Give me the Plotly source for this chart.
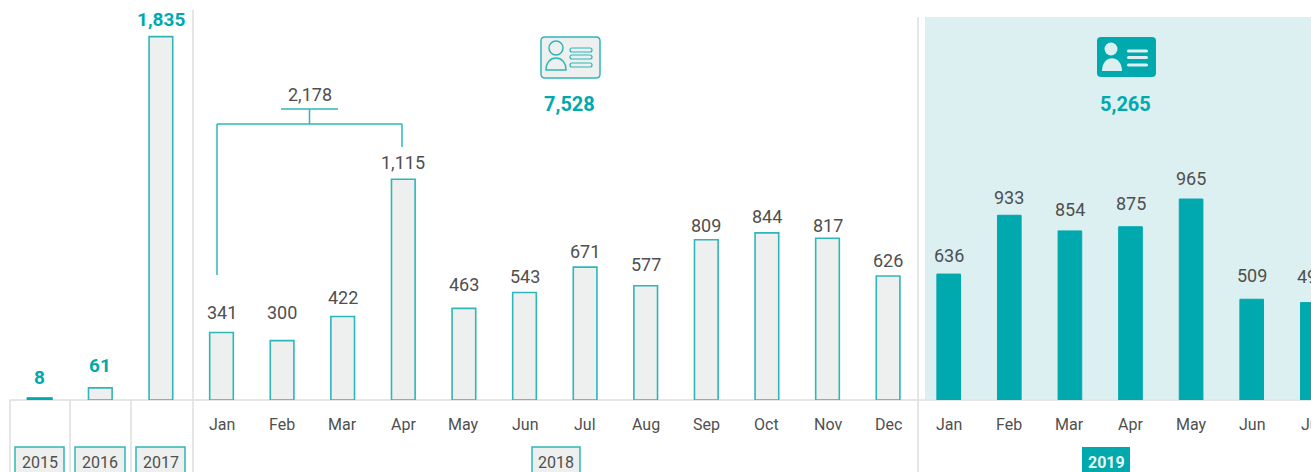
import plotly.graph_objects as go

W, H = 1311, 472
FIG_W = 1331  # the figure runs past the window so the last bar and labels are cut at the edge
BASE = 399  # pixel row of the zero line
TEAL = "#00a9ad"
LINE = "#2fb6b9"
FILL = "#edf0ee"
GREY = "#dedede"
TXT = "#4f4f4f"
FONT = "Roboto"

years = ["2015", "2016", "2017"]
year_vals = [8, 61, 1835]
months_2018 = ["Jan", "Feb", "Mar", "Apr", "May", "Jun", "Jul", "Aug", "Sep", "Oct", "Nov", "Dec"]
vals_2018 = [341, 300, 422, 1115, 463, 543, 671, 577, 809, 844, 817, 626]
months_2019 = ["Jan", "Feb", "Mar", "Apr", "May", "Jun", "Jul"]
labels_2019 = [636, 933, 854, 875, 965, 509, 492]
# heights as drawn in the reference (May is drawn taller than its label)
heights_2019 = [636, 933, 854, 875, 1015, 509, 492]
bracket_total = "2,178"
total_2018 = "7,528"
total_2019 = "5,265"

# pixel lift of each value label above its bar, as placed in the reference
lift_years = [21, 22, 17]
lift_2018 = [20, 28, 19, 17, 24, 16, 16, 21, 14, 16, 13, 16]
lift_2019 = [19, 18, 21, 23, 21, 24, 26]

x_y = list(range(3))
x_18 = list(range(3, 15))
x_19 = list(range(15, 22))

STEP = 60.6
X0 = 39.7
SCALE = 0.198


def px(x):
    return x / FIG_W


def py(y):
    # paper coordinates: plot area ends at BASE + 1
    return ((BASE + 1) - y) / (BASE + 1)


def fmt(v):
    return f"{v:,}"


fig = go.Figure()
fig.add_bar(x=x_y, y=year_vals,
            marker=dict(color=[TEAL, FILL, FILL], line=dict(color=[TEAL, LINE, LINE], width=[2.5, 1.6, 1.6])))
fig.add_bar(x=x_18, y=vals_2018, marker=dict(color=FILL, line=dict(color=LINE, width=1.6)))
fig.add_bar(x=x_19, y=heights_2019, marker=dict(color=TEAL, line=dict(color=TEAL, width=1)))
fig.update_traces(cliponaxis=False, width=0.39, hoverinfo="skip")

shapes = []


def line(x1, y1, x2, y2, color=GREY, width=1.5, layer="below"):
    shapes.append(dict(type="line", xref="paper", yref="paper", x0=px(x1), x1=px(x2), y0=py(y1), y1=py(y2),
                       line=dict(color=color, width=width), layer=layer))


def rect(x1, y1, x2, y2, fill=None, color=None, width=1.5, layer="below"):
    shapes.append(dict(type="rect", xref="paper", yref="paper", x0=px(x1), x1=px(x2), y0=py(y1), y1=py(y2),
                       fillcolor=fill or "rgba(0,0,0,0)",
                       line=dict(color=color or "rgba(0,0,0,0)", width=width if color else 0), layer=layer))


def circle(cx, cy, r, fill, color=None, width=1.5):
    shapes.append(dict(type="circle", xref="paper", yref="paper", x0=px(cx - r), x1=px(cx + r),
                       y0=py(cy + r), y1=py(cy - r), fillcolor=fill,
                       line=dict(color=color or fill, width=width if color else 0), layer="above"))


def pill(x1, y1, x2, y2, r, fill, color=None, width=1.5):
    k = r
    pts = [
        (x1 + k, y1), (x2 - k, y1), ("Q", x2, y1, x2, y1 + k), (x2, y2 - k), ("Q", x2, y2, x2 - k, y2),
        (x1 + k, y2), ("Q", x1, y2, x1, y2 - k), (x1, y1 + k), ("Q", x1, y1, x1 + k, y1),
    ]
    d = ""
    for i, p in enumerate(pts):
        if p[0] == "Q":
            d += f"Q{px(p[1]):.5f},{py(p[2]):.5f} {px(p[3]):.5f},{py(p[4]):.5f} "
        else:
            d += f"{'M' if i == 0 else 'L'}{px(p[0]):.5f},{py(p[1]):.5f} "
    shapes.append(dict(type="path", xref="paper", yref="paper", path=d + "Z", fillcolor=fill,
                       line=dict(color=color or fill, width=width if color else 0), layer="above"))


def bust(x1, y1, x2, y2, fill, color=None, width=1.5):
    d = (f"M{px(x1):.5f},{py(y2):.5f} C{px(x1):.5f},{py(y1):.5f} {px(x2):.5f},{py(y1):.5f} "
         f"{px(x2):.5f},{py(y2):.5f} Z")
    shapes.append(dict(type="path", xref="paper", yref="paper", path=d, fillcolor=fill,
                       line=dict(color=color or fill, width=width if color else 0), layer="above"))


# highlighted 2019 panel and rules
rect(925, 17, FIG_W, BASE, fill="#dcf0f2")
line(10, 400, FIG_W, 400)
line(193, 10, 193, H)
line(918, 17, 918, H)
for xp in (10, 70, 131):
    line(xp, 400, xp, H)

# bracket
for a in [(217, 275, 217, 124), (217, 124, 402, 124), (402, 124, 402, 147), (309.5, 124, 309.5, 109), (281, 109, 338, 109)]:
    line(*a, color=LINE, width=1.5, layer="above")

# year boxes
for x1, x2 in [(15, 64), (75, 125), (136, 185), (532, 580)]:
    rect(x1, 447, x2, 474, fill=FILL, color=LINE, width=1.5, layer="above")
rect(1082, 447, 1130, 474, fill=TEAL, layer="above")

# outlined card icon
pill(541, 37, 600, 78, 4, FILL, LINE, 1.5)
circle(556, 48, 7, FILL, LINE, 1.5)
bust(546, 54, 566, 70, FILL, LINE, 1.5)
for yy in (50, 57, 65):
    pill(570, yy - 2, 592, yy + 2, 2, FILL, LINE, 1.2)

# filled card icon
pill(1097, 37, 1156, 77, 4, TEAL)
circle(1111, 49, 6.5, "#dcf0f2")
bust(1102, 54, 1122, 71, "#dcf0f2")
for yy in (51, 57.5, 65):
    pill(1127, yy - 1.5, 1148, yy + 1.5, 1.5, "#dcf0f2")


def ann(x, y, text, color=TXT, size=18, weight="normal"):
    return dict(xref="paper", yref="paper", x=px(x), y=py(y), text=text, showarrow=False,
                xanchor="center", yanchor="middle",
                font=dict(color=color, size=size, family=FONT, weight=weight))


annotations = [
    ann(309.5, 94, bracket_total, TXT, 18),
    ann(569, 104, total_2018, TEAL, 20, "bold"),
    ann(1125, 104, total_2019, TEAL, 20, "bold"),
    ann(40, 462, years[0], TXT, 16),
    ann(100, 462, years[1], TXT, 16),
    ann(160.5, 462, years[2], TXT, 16),
    ann(556, 462, "2018", TXT, 16),
    ann(1106, 462, "2019", "#e8f6f6", 16, "bold"),
]


def value_labels(xs, heights, texts, lifts, color, size, weight):
    for x, h, t, lift in zip(xs, heights, texts, lifts):
        annotations.append(dict(xref="x", yref="y", x=x, y=h, text=fmt(t), showarrow=False,
                                xanchor="center", yanchor="middle", yshift=lift,
                                font=dict(color=color, size=size, family=FONT, weight=weight)))


value_labels(x_y, year_vals, year_vals, lift_years, TEAL, 19, "bold")
value_labels(x_18, vals_2018, vals_2018, lift_2018, TXT, 18, "normal")
value_labels(x_19, heights_2019, labels_2019, lift_2019, TXT, 18, "normal")

for x, t in zip(x_18 + x_19, months_2018 + months_2019):
    annotations.append(dict(xref="x", yref="paper", x=x, y=py(424), text=t, showarrow=False,
                            xanchor="center", yanchor="middle",
                            font=dict(color=TXT, size=16, family=FONT)))

fig.update_layout(
    width=FIG_W, height=H, barmode="overlay", showlegend=False,
    paper_bgcolor="white", plot_bgcolor="rgba(0,0,0,0)",
    margin=dict(l=0, r=0, t=0, b=H - (BASE + 1), pad=0),
    font=dict(family=FONT, color=TXT),
    xaxis=dict(range=[-X0 / STEP, (FIG_W - X0) / STEP], showticklabels=False, ticks="",
               showgrid=False, zeroline=False, showline=False, fixedrange=True),
    yaxis=dict(range=[0, (BASE + 1) / SCALE], visible=False, fixedrange=True),
    shapes=shapes, annotations=annotations,
)

fig.write_html("out.html", config=dict(displayModeBar=False),
               post_script="document.documentElement.style.overflow='hidden';document.body.style.margin='0';document.body.style.overflow='hidden';")
